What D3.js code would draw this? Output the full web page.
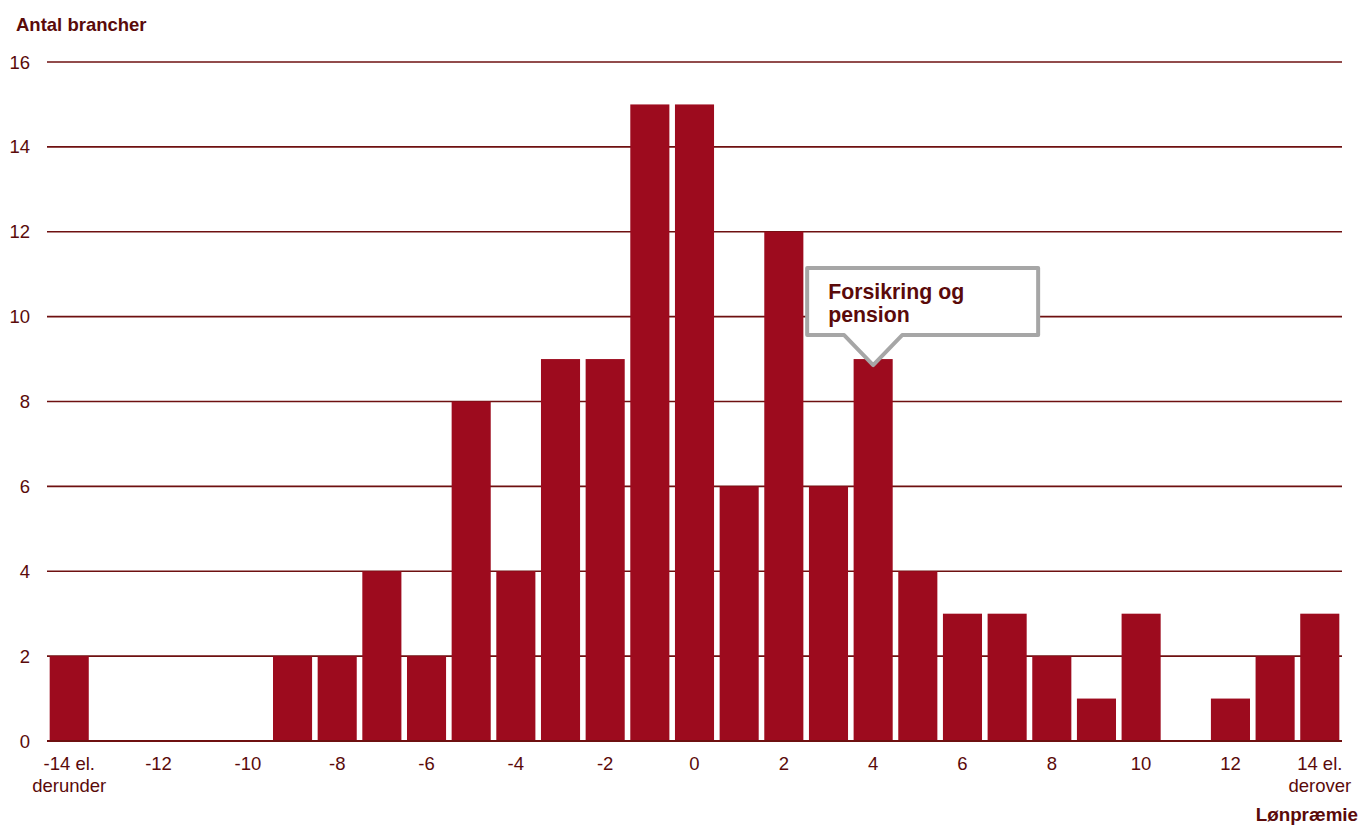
<!DOCTYPE html>
<html>
<head>
<meta charset="utf-8">
<script src="https://cdn.jsdelivr.net/npm/d3@7"></script>
<style>
  html, body { margin: 0; padding: 0; background: #fff; }
  svg { display: block; font-family: "Liberation Sans", Arial, sans-serif; }
</style>
</head>
<body>
<svg id="chart" width="1359" height="826"></svg>
<script>
// Wage premium buckets (percent) and number of industries in each
const categories = [-14, -13, -12, -11, -10, -9, -8, -7, -6, -5, -4, -3, -2, -1, 0,
                    1, 2, 3, 4, 5, 6, 7, 8, 9, 10, 11, 12, 13, 14];
const counts = [2, 0, 0, 0, 0, 2, 2, 4, 2, 8, 4, 9, 9, 15, 15,
                6, 12, 6, 9, 4, 3, 3, 2, 1, 3, 0, 1, 2, 3];
const yTicks = [0, 2, 4, 6, 8, 10, 12, 14, 16];
const xTickLabels = {
  "-14": ["-14 el.", "derunder"], "-12": ["-12"], "-10": ["-10"], "-8": ["-8"],
  "-6": ["-6"], "-4": ["-4"], "-2": ["-2"], "0": ["0"], "2": ["2"], "4": ["4"],
  "6": ["6"], "8": ["8"], "10": ["10"], "12": ["12"], "14": ["14 el.", "derover"]
};
const callout = { category: 4, lines: ["Forsikring og", "pension"] };

const barColor = "#9d0b1e";
const gridColor = "#6e1010";
const textColor = "#5a0a0a";

const svg = d3.select("#chart");
const margin = { left: 47, right: 17, top: 62, bottom: 85 };
const W = 1359, H = 826;

const x = d3.scaleBand()
  .domain(categories)
  .range([margin.left, W - margin.right])
  .paddingInner(0.125)
  .paddingOuter(0.06);

const y = d3.scaleLinear().domain([0, 16]).range([H - margin.bottom, margin.top]);

// horizontal gridlines
svg.append("g").selectAll("line")
  .data(yTicks)
  .join("line")
  .attr("x1", margin.left).attr("x2", W - margin.right)
  .attr("y1", d => y(d)).attr("y2", d => y(d))
  .attr("stroke", gridColor).attr("stroke-width", 1.6);

// y tick labels
svg.append("g").selectAll("text")
  .data(yTicks)
  .join("text")
  .attr("x", 30).attr("y", d => y(d) + 6.5)
  .attr("text-anchor", "end")
  .attr("font-size", 18.5).attr("fill", textColor)
  .text(d => d);

// bars
svg.append("g").selectAll("rect")
  .data(categories.map((c, i) => ({ c, v: counts[i] })))
  .join("rect")
  .attr("x", d => x(d.c))
  .attr("width", x.bandwidth())
  .attr("y", d => y(d.v))
  .attr("height", d => y(0) - y(d.v))
  .attr("fill", barColor);

// baseline
svg.append("line")
  .attr("x1", margin.left).attr("x2", W - margin.right)
  .attr("y1", y(0)).attr("y2", y(0))
  .attr("stroke", gridColor).attr("stroke-width", 1.8);

// x tick labels
const xl = svg.append("g").selectAll("text")
  .data(Object.entries(xTickLabels))
  .join("text")
  .attr("x", d => x(+d[0]) + x.bandwidth() / 2)
  .attr("y", y(0) + 28.5)
  .attr("text-anchor", "middle")
  .attr("font-size", 18.5).attr("fill", textColor);
xl.selectAll("tspan")
  .data(d => d[1].map(t => ({ t, cx: x(+d[0]) + x.bandwidth() / 2 })))
  .join("tspan")
  .attr("x", d => d.cx)
  .attr("dy", (d, i) => i === 0 ? 0 : 22)
  .text(d => d.t);

// axis titles
svg.append("text")
  .attr("x", 16).attr("y", 31)
  .attr("font-size", 18.5).attr("font-weight", "bold").attr("fill", textColor)
  .text("Antal brancher");
svg.append("text")
  .attr("x", W - 1).attr("y", 820.5)
  .attr("text-anchor", "end")
  .attr("font-size", 18.8).attr("font-weight", "bold").attr("fill", textColor)
  .text("Lønpræmie");

// callout pointing at the highlighted bar
const cIdx = categories.indexOf(callout.category);
const tipX = x(callout.category) + x.bandwidth() / 2;
const tipY = y(counts[cIdx]) + 6;
const bx0 = tipX - 66, bx1 = tipX + 165, by0 = tipY - 97, by1 = tipY - 30;
const pth = d3.path();
pth.moveTo(bx0, by0);
pth.lineTo(bx1, by0);
pth.lineTo(bx1, by1);
pth.lineTo(tipX + 29, by1);
pth.lineTo(tipX, tipY);
pth.lineTo(tipX - 29, by1);
pth.lineTo(bx0, by1);
pth.closePath();
svg.append("path")
  .attr("d", pth.toString())
  .attr("fill", "#fff")
  .attr("stroke", "#a6a6a6")
  .attr("stroke-width", 4)
  .attr("stroke-linejoin", "round");
svg.append("text")
  .attr("x", bx0 + 21).attr("y", by0 + 31)
  .attr("font-size", 21.3).attr("font-weight", "bold").attr("fill", textColor)
  .selectAll("tspan")
  .data(callout.lines)
  .join("tspan")
  .attr("x", bx0 + 21)
  .attr("dy", (d, i) => i === 0 ? 0 : 23)
  .text(d => d);
</script>
</body>
</html>
